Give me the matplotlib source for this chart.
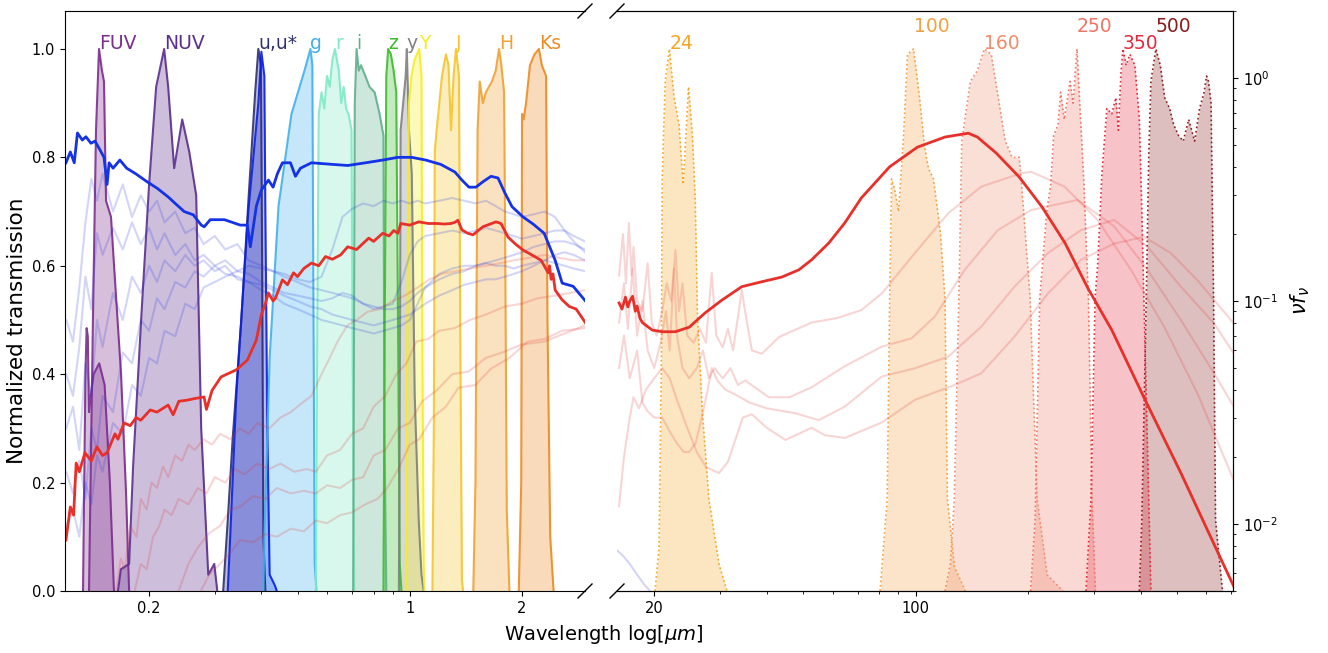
import numpy as np
import matplotlib
matplotlib.use("Agg")
import matplotlib.pyplot as plt
from matplotlib.ticker import FixedLocator, FixedFormatter, LogLocator, NullFormatter

# ---------------- UV / optical / NIR filter curves (left panel) ----------------
FUV_WL = [0.1380, 0.1414, 0.1441, 0.1468, 0.1495, 0.1514, 0.1533, 0.1581, 0.1611, 0.1682, 0.1735, 0.1768]
FUV_T = [0.0, 0.50, 0.85, 1.00, 0.96, 0.94, 0.72, 0.69, 0.60, 0.40, 0.18, 0.0]
FUV2_WL = [0.1330, 0.1340, 0.1350, 0.1360, 0.1370, 0.1380, 0.1395, 0.1420, 0.1470, 0.1520, 0.1570, 0.1610]
FUV2_T = [0.0, 0.20, 0.40, 0.485, 0.47, 0.33, 0.36, 0.40, 0.42, 0.38, 0.20, 0.0]
NUV_WL = [0.1650, 0.1680, 0.1768, 0.1812, 0.1904, 0.2000, 0.2089, 0.2195, 0.2250, 0.2335, 0.2454,
          0.2563, 0.2675, 0.2759, 0.2882, 0.2991, 0.3047]
NUV_T = [0.0, 0.04, 0.05, 0.23, 0.50, 0.75, 0.93, 1.00, 0.93, 0.78, 0.87, 0.81, 0.73, 0.30, 0.03, 0.05, 0.0]
USTAR_WL = [0.316, 0.325, 0.335, 0.3534, 0.370, 0.385, 0.3926, 0.399, 0.402, 0.405, 0.410]
USTAR_T = [0.0, 0.13, 0.28, 0.50, 0.73, 0.92, 1.00, 0.97, 0.60, 0.10, 0.0]
U_WL = [0.325, 0.330, 0.3426, 0.369, 0.3926, 0.400, 0.4075, 0.410, 0.415, 0.421, 0.435, 0.440]
U_T = [0.0, 0.10, 0.36, 0.70, 0.90, 0.995, 0.95, 0.70, 0.30, 0.03, 0.01, 0.0]
G_WL = [0.405, 0.4075, 0.421, 0.4447, 0.4817, 0.522, 0.5416, 0.548, 0.552, 0.556, 0.562]
G_T = [0.0, 0.10, 0.43, 0.71, 0.88, 0.96, 1.00, 0.97, 0.50, 0.05, 0.0]
R_WL = [0.560, 0.565, 0.570, 0.580, 0.590, 0.600, 0.610, 0.620, 0.630, 0.645, 0.655, 0.665, 0.675,
        0.685, 0.698, 0.703, 0.710]
R_T = [0.0, 0.50, 0.88, 0.92, 0.89, 0.95, 0.93, 0.98, 1.00, 0.96, 0.90, 0.93, 0.89, 0.88, 0.85, 0.40, 0.0]
I_WL = [0.705, 0.712, 0.720, 0.730, 0.740, 0.760, 0.780, 0.805, 0.830, 0.850, 0.855, 0.865]
I_T = [0.0, 0.90, 1.00, 0.96, 0.97, 0.95, 0.93, 0.92, 0.88, 0.84, 0.30, 0.0]
Z_WL = [0.850, 0.857, 0.865, 0.875, 0.890, 0.905, 0.920, 0.930, 0.940, 0.950]
Z_T = [0.0, 0.50, 0.95, 1.00, 0.99, 0.96, 0.92, 0.50, 0.05, 0.0]
YS_WL = [0.935, 0.940, 0.945, 0.960, 0.975, 0.982, 0.995, 1.0125, 1.031, 1.057, 1.075, 1.090]
YS_T = [0.0, 0.30, 0.85, 0.90, 0.95, 1.00, 0.85, 0.77, 0.36, 0.13, 0.03, 0.0]
YB_WL = [0.975, 0.985, 0.995, 1.010, 1.030, 1.060, 1.075, 1.080, 1.090, 1.095]
YB_T = [0.0, 0.50, 0.90, 0.95, 0.98, 1.00, 0.95, 0.50, 0.05, 0.0]
J_WL = [1.150, 1.160, 1.167, 1.180, 1.200, 1.220, 1.250, 1.270, 1.290, 1.310, 1.330, 1.340, 1.355,
        1.365, 1.380, 1.390]
J_T = [0.0, 0.30, 0.81, 0.85, 0.90, 0.95, 0.99, 0.97, 0.85, 0.95, 1.00, 0.98, 0.95, 0.50, 0.02, 0.0]
H_WL = [1.480, 1.500, 1.520, 1.540, 1.570, 1.600, 1.630, 1.660, 1.700, 1.735, 1.760, 1.790, 1.800,
        1.820, 1.850]
H_T = [0.0, 0.20, 0.85, 0.94, 0.90, 0.92, 0.93, 0.94, 0.96, 1.00, 0.97, 0.92, 0.70, 0.15, 0.0]
KS_WL = [1.960, 1.990, 2.000, 2.020, 2.050, 2.100, 2.160, 2.220, 2.260, 2.320, 2.340, 2.380, 2.430]
KS_T = [0.0, 0.20, 0.88, 0.87, 0.90, 0.97, 0.99, 1.00, 0.97, 0.95, 0.50, 0.10, 0.0]

OPT_NAMES = ["FUV", "", "NUV", "u,u*", "", "g", "r", "i", "z", "y", "Y", "J", "H", "Ks"]
OPT_COLORS = ["#7b2d8e", "#7b2d8e", "#5a2d8e", "#2e2e6e", "#0a1ee8", "#3fb0ec", "#7eeac4",
              "#5fb08c", "#3dbb2e", "#808080", "#f5ee20", "#f5c52a", "#f0a030", "#ec8a22"]
OPT_WL = [FUV_WL, FUV2_WL, NUV_WL, USTAR_WL, U_WL, G_WL, R_WL, I_WL, Z_WL, YS_WL, YB_WL, J_WL, H_WL, KS_WL]
OPT_T = [FUV_T, FUV2_T, NUV_T, USTAR_T, U_T, G_T, R_T, I_T, Z_T, YS_T, YB_T, J_T, H_T, KS_T]

# ---------------- FIR filter curves (right panel) ----------------
F24_WL = [20.1, 20.6, 20.9, 21.0, 21.4, 21.95, 22.6, 23.3, 23.9, 24.7, 25.3, 25.75, 26.1, 26.9, 28.0, 29.8, 31.3]
F24_T = [0.0, 0.08, 0.42, 0.76, 0.94, 1.0, 0.91, 0.86, 0.75, 0.93, 0.84, 0.72, 0.51, 0.33, 0.17, 0.05, 0.0]
F100_WL = [80.4, 84.0, 85.3, 86.3, 88.0, 90.1, 92.9, 95.2, 98.8, 102.5, 105.7, 108.3, 111.7, 116.6,
           119.9, 121.7, 127.1, 135.9]
F100_T = [0.0, 0.17, 0.54, 0.76, 0.74, 0.70, 0.84, 0.99, 1.0, 0.91, 0.82, 0.78, 0.76, 0.66, 0.54, 0.17, 0.045, 0.0]
F160_WL = [119.9, 124.0, 127.0, 130.6, 133.0, 140.2, 146.4, 152.8, 159.5, 166.5, 173.8, 181.4, 189.4,
           191.7, 194.7, 202.6, 211.5, 224.9, 248.0]
F160_T = [0.0, 0.05, 0.17, 0.54, 0.83, 0.94, 0.96, 1.0, 0.99, 0.91, 0.83, 0.80, 0.80, 0.76, 0.70, 0.54, 0.17, 0.03, 0.0]
F250_WL = [203.1, 208.9, 215.0, 224.5, 230.0, 234.2, 240.6, 244.5, 250.0, 259.1, 264.0, 270.4, 275.0,
           282.3, 285.8, 290.2, 296.5, 302.9]
F250_T = [0.0, 0.13, 0.54, 0.70, 0.75, 0.84, 0.86, 0.92, 0.87, 0.94, 0.90, 1.0, 0.90, 0.75, 0.65, 0.54, 0.17, 0.0]
F350_WL = [285.8, 294.8, 302.3, 307.1, 311.5, 315.3, 325.1, 335.0, 343.6, 349.0, 354.5, 358.9, 366.0,
           374.7, 386.2, 397.0, 403.2, 408.2, 420.7, 426.3]
F350_T = [0.0, 0.17, 0.54, 0.60, 0.69, 0.77, 0.89, 0.88, 0.91, 0.85, 0.955, 1.0, 0.97, 0.99, 0.97, 0.87,
          0.70, 0.54, 0.17, 0.0]
F500_WL = [397.0, 403.2, 414.4, 420.7, 426.3, 439.6, 451.7, 464.2, 478.6, 490.6, 505.8, 520.3, 538.0,
           558.2, 575.4, 591.6, 600.7, 608.1, 617.6, 627.2, 635.0, 662.6]
F500_T = [0.0, 0.13, 0.54, 0.80, 0.94, 1.0, 0.97, 0.91, 0.89, 0.86, 0.84, 0.83, 0.87, 0.83, 0.89, 0.92,
          0.95, 0.94, 0.90, 0.54, 0.13, 0.0]

FIR_NAMES = ["24", "100", "160", "250", "350", "500"]
FIR_COLORS = ["#f5a623", "#f4a040", "#f08c6c", "#ef7564", "#e6283a", "#8a1c1c"]
FIR_WL = [F24_WL, F100_WL, F160_WL, F250_WL, F350_WL, F500_WL]
FIR_T = [F24_T, F100_T, F160_T, F250_T, F350_T, F500_T]

# ---------------- SEDs, left panel (normalised, linear) ----------------
BLUE_WL = [0.1197, 0.1230, 0.1260, 0.1285, 0.1324, 0.1354, 0.1397, 0.1432, 0.1476, 0.1514, 0.1543,
           0.1562, 0.1601, 0.1670, 0.1741, 0.1839, 0.1975, 0.2102, 0.2250, 0.2350, 0.2484, 0.2627,
           0.2760, 0.2812, 0.2917, 0.3185, 0.3512, 0.3668, 0.3737, 0.3878, 0.4001, 0.4178, 0.4300,
           0.4417, 0.4556, 0.4787, 0.4937, 0.5093, 0.5451, 0.6209, 0.6815, 0.7615, 0.8460, 0.9284,
           1.0125, 1.104, 1.211, 1.321, 1.380, 1.441, 1.504, 1.571, 1.651, 1.724, 1.800, 1.880,
           2.013, 2.141, 2.292, 2.454, 2.562, 2.743, 2.991]
BLUE_T = [0.79, 0.81, 0.79, 0.845, 0.832, 0.838, 0.826, 0.83, 0.814, 0.80, 0.75, 0.79, 0.78, 0.795,
          0.78, 0.77, 0.755, 0.743, 0.727, 0.715, 0.70, 0.694, 0.675, 0.672, 0.685, 0.685, 0.675,
          0.675, 0.635, 0.71, 0.74, 0.758, 0.745, 0.77, 0.79, 0.79, 0.765, 0.78, 0.79, 0.787, 0.785,
          0.79, 0.795, 0.80, 0.80, 0.795, 0.787, 0.773, 0.758, 0.745, 0.745, 0.755, 0.765, 0.762,
          0.734, 0.709, 0.69, 0.677, 0.66, 0.61, 0.568, 0.562, 0.531]
RED_WL = [0.1197, 0.1230, 0.1255, 0.1275, 0.1300, 0.1346, 0.1400, 0.1449, 0.1500, 0.1543, 0.1620,
          0.1650, 0.1714, 0.1780, 0.1846, 0.1900, 0.2014, 0.2100, 0.2250, 0.2320, 0.2403, 0.2527,
          0.2650, 0.2808, 0.2850, 0.2950, 0.3119, 0.3426, 0.3668, 0.3878, 0.4001, 0.4100, 0.4178,
          0.4300, 0.4362, 0.4556, 0.4700, 0.4878, 0.5000, 0.5200, 0.5451, 0.5700, 0.5943, 0.6200,
          0.6525, 0.6815, 0.7200, 0.7759, 0.8000, 0.8460, 0.8800, 0.9057, 0.9300, 0.9458, 1.000,
          1.057, 1.120, 1.182, 1.240, 1.289, 1.320, 1.346, 1.380, 1.430, 1.477, 1.571, 1.703, 1.756,
          1.834, 1.920, 2.013, 2.150, 2.250, 2.350, 2.370, 2.393, 2.420, 2.454, 2.562, 2.676, 2.794, 2.991]
RED_T = [0.094, 0.155, 0.14, 0.236, 0.22, 0.255, 0.24, 0.266, 0.25, 0.255, 0.29, 0.28, 0.31, 0.305,
         0.32, 0.315, 0.334, 0.33, 0.343, 0.325, 0.35, 0.352, 0.355, 0.358, 0.335, 0.37, 0.395,
         0.408, 0.426, 0.463, 0.51, 0.53, 0.55, 0.535, 0.54, 0.574, 0.565, 0.587, 0.58, 0.595, 0.605,
         0.60, 0.617, 0.612, 0.62, 0.635, 0.63, 0.651, 0.645, 0.66, 0.655, 0.665, 0.66, 0.678, 0.675,
         0.681, 0.678, 0.678, 0.677, 0.678, 0.68, 0.684, 0.666, 0.66, 0.657, 0.672, 0.681, 0.678,
         0.653, 0.64, 0.629, 0.618, 0.61, 0.587, 0.60, 0.575, 0.585, 0.555, 0.537, 0.525, 0.52, 0.49]

FAINT_BLUE_WL = [0.12, 0.125, 0.13, 0.135, 0.14, 0.145, 0.15, 0.16, 0.17, 0.18, 0.19, 0.2, 0.21, 0.22,
                 0.235, 0.25, 0.265, 0.28, 0.3, 0.32, 0.345, 0.37, 0.4, 0.43, 0.46, 0.5, 0.54, 0.58,
                 0.62, 0.66, 0.7, 0.75, 0.8, 0.85, 0.9, 0.95, 1.0, 1.05, 1.1, 1.2, 1.3, 1.4, 1.5, 1.6,
                 1.7, 1.8, 1.9, 2.0, 2.15, 2.3, 2.45, 2.6, 2.75, 2.95]
FAINT_BLUE_1 = [0.50, 0.46, 0.56, 0.68, 0.76, 0.72, 0.77, 0.70, 0.75, 0.69, 0.73, 0.70, 0.72, 0.68,
                0.70, 0.66, 0.67, 0.64, 0.655, 0.63, 0.64, 0.61, 0.60, 0.59, 0.585, 0.575, 0.57, 0.58,
                0.63, 0.69, 0.705, 0.715, 0.71, 0.72, 0.715, 0.72, 0.715, 0.72, 0.715, 0.72, 0.725,
                0.72, 0.715, 0.72, 0.71, 0.70, 0.695, 0.69, 0.695, 0.70, 0.69, 0.665, 0.645, 0.625]
FAINT_BLUE_2 = [0.40, 0.36, 0.45, 0.58, 0.52, 0.66, 0.62, 0.67, 0.63, 0.68, 0.64, 0.67, 0.63, 0.66,
                0.62, 0.64, 0.61, 0.62, 0.60, 0.61, 0.59, 0.585, 0.57, 0.56, 0.55, 0.545, 0.54, 0.535,
                0.54, 0.55, 0.545, 0.53, 0.52, 0.525, 0.53, 0.57, 0.62, 0.645, 0.655, 0.66, 0.665,
                0.66, 0.665, 0.67, 0.665, 0.66, 0.655, 0.65, 0.655, 0.66, 0.665, 0.665, 0.655, 0.645]
FAINT_BLUE_3 = [0.30, 0.34, 0.26, 0.42, 0.36, 0.50, 0.45, 0.55, 0.50, 0.58, 0.55, 0.60, 0.57, 0.61,
                0.59, 0.62, 0.60, 0.61, 0.59, 0.60, 0.575, 0.57, 0.555, 0.545, 0.53, 0.52, 0.51, 0.50,
                0.495, 0.49, 0.485, 0.48, 0.475, 0.48, 0.485, 0.49, 0.50, 0.53, 0.56, 0.585, 0.595,
                0.60, 0.60, 0.605, 0.60, 0.60, 0.595, 0.60, 0.605, 0.61, 0.605, 0.60, 0.595, 0.59]
FAINT_BLUE_4 = [0.22, 0.18, 0.24, 0.17, 0.30, 0.26, 0.36, 0.33, 0.44, 0.42, 0.50, 0.48, 0.54, 0.52,
                0.57, 0.56, 0.59, 0.58, 0.60, 0.585, 0.58, 0.57, 0.565, 0.555, 0.545, 0.535, 0.525,
                0.52, 0.51, 0.505, 0.50, 0.495, 0.49, 0.495, 0.50, 0.505, 0.51, 0.52, 0.53, 0.545,
                0.555, 0.565, 0.57, 0.575, 0.575, 0.58, 0.585, 0.59, 0.60, 0.61, 0.62, 0.625, 0.62, 0.61]
FAINT_BLUE_5 = [0.12, 0.15, 0.10, 0.20, 0.16, 0.25, 0.22, 0.31, 0.29, 0.38, 0.36, 0.43, 0.42, 0.48,
                0.47, 0.53, 0.52, 0.56, 0.57, 0.58, 0.59, 0.60, 0.595, 0.59, 0.58, 0.57, 0.56, 0.555,
                0.55, 0.545, 0.54, 0.53, 0.525, 0.52, 0.52, 0.525, 0.535, 0.55, 0.56, 0.575, 0.585,
                0.59, 0.60, 0.605, 0.61, 0.615, 0.62, 0.625, 0.635, 0.64, 0.645, 0.645, 0.64, 0.63]
FAINT_BLUE = [FAINT_BLUE_1, FAINT_BLUE_2, FAINT_BLUE_3, FAINT_BLUE_4, FAINT_BLUE_5]

FR1_WL = [0.163, 0.168, 0.172, 0.178, 0.185, 0.19, 0.197, 0.203, 0.21, 0.218, 0.225, 0.235, 0.245,
          0.255, 0.265, 0.28, 0.295, 0.31, 0.33, 0.35, 0.37, 0.39, 0.42, 0.45, 0.48, 0.51, 0.545,
          0.58, 0.61, 0.64, 0.68, 0.72, 0.77, 0.83, 0.9, 0.97, 1.05, 1.13, 1.22, 1.32, 1.45, 1.6,
          1.75, 1.9, 2.1, 2.3, 2.5, 2.75, 2.95]
FR1_T = [0.0, 0.06, 0.04, 0.12, 0.10, 0.17, 0.15, 0.20, 0.19, 0.23, 0.21, 0.25, 0.24, 0.27, 0.26,
         0.28, 0.27, 0.29, 0.28, 0.30, 0.29, 0.31, 0.30, 0.32, 0.33, 0.345, 0.36, 0.40, 0.43, 0.46,
         0.49, 0.50, 0.515, 0.52, 0.535, 0.545, 0.56, 0.575, 0.585, 0.59, 0.595, 0.60, 0.605, 0.61,
         0.615, 0.62, 0.615, 0.61, 0.61]
FR2_WL = [0.183, 0.19, 0.197, 0.205, 0.213, 0.22, 0.23, 0.24, 0.255, 0.27, 0.285, 0.3, 0.32, 0.34,
          0.36, 0.39, 0.42, 0.45, 0.49, 0.53, 0.56, 0.6, 0.65, 0.7, 0.75, 0.8, 0.86, 0.92, 0.98,
          1.04, 1.12, 1.2, 1.32, 1.45, 1.6, 1.8, 2.0, 2.2, 2.45, 2.7, 2.95]
FR2_T = [0.0, 0.05, 0.04, 0.10, 0.12, 0.15, 0.14, 0.17, 0.16, 0.19, 0.18, 0.21, 0.20, 0.225, 0.215,
         0.235, 0.225, 0.235, 0.22, 0.225, 0.22, 0.25, 0.26, 0.29, 0.30, 0.34, 0.36, 0.40, 0.42,
         0.46, 0.465, 0.48, 0.485, 0.50, 0.51, 0.525, 0.53, 0.54, 0.545, 0.55, 0.555]
FR3_WL = [0.24, 0.255, 0.27, 0.29, 0.31, 0.33, 0.35, 0.38, 0.41, 0.44, 0.48, 0.52, 0.56, 0.6, 0.65,
          0.7, 0.75, 0.8, 0.86, 0.93, 1.0, 1.08, 1.18, 1.3, 1.44, 1.6, 1.77, 2.0, 2.29, 2.6, 2.95]
FR3_T = [0.0, 0.05, 0.08, 0.107, 0.12, 0.15, 0.155, 0.175, 0.17, 0.19, 0.18, 0.185, 0.18, 0.195,
         0.19, 0.205, 0.21, 0.25, 0.26, 0.30, 0.31, 0.35, 0.37, 0.40, 0.405, 0.43, 0.44, 0.455,
         0.46, 0.475, 0.49]
FR4_WL = [0.275, 0.29, 0.31, 0.33, 0.35, 0.38, 0.41, 0.44, 0.48, 0.52, 0.56, 0.6, 0.65, 0.7, 0.76,
          0.82, 0.87, 0.94, 1.0, 1.06, 1.15, 1.25, 1.35, 1.5, 1.65, 1.85, 2.07, 2.3, 2.56, 2.95]
FR4_T = [0.0, 0.03, 0.05, 0.07, 0.094, 0.09, 0.105, 0.10, 0.115, 0.11, 0.13, 0.125, 0.14, 0.145,
         0.16, 0.17, 0.19, 0.23, 0.27, 0.28, 0.32, 0.34, 0.375, 0.38, 0.41, 0.43, 0.46, 0.465, 0.48, 0.485]
FAINT_RED_WL = [FR1_WL, FR2_WL, FR3_WL, FR4_WL]
FAINT_RED_T = [FR1_T, FR2_T, FR3_T, FR4_T]

# ---------------- SEDs, right panel (nu f_nu, log) ----------------
SED_WL = [16.1, 16.4, 16.75, 17.0, 17.2, 17.5, 17.8, 18.0, 18.3, 18.59, 19.77, 21.03, 22.77, 24.81,
          27.37, 30.36, 34.31, 38.79, 43.85, 48.75, 52.72, 58.61, 64.67, 71.64, 85.25, 101.2, 119.9,
          138.4, 146.4, 164.4, 189.4, 218.1, 251.2, 289.3, 335.2, 408.2, 512.2, 642.7, 712.0]
SED_F = [0.098, 0.092, 0.104, 0.094, 0.100, 0.105, 0.090, 0.095, 0.084, 0.080, 0.074, 0.0728, 0.0728,
         0.0763, 0.0885, 0.101, 0.116, 0.122, 0.128, 0.138, 0.153, 0.182, 0.224, 0.29, 0.40, 0.49,
         0.544, 0.566, 0.544, 0.461, 0.36, 0.264, 0.182, 0.114, 0.074, 0.037, 0.017, 0.0075, 0.0052]

C1_WL = [16.1, 16.5, 16.8, 17.1, 17.4, 17.6, 18.0, 18.6, 19.2, 19.7, 20.3, 21.0, 21.6, 22.2, 22.8,
         23.3, 23.8, 24.5, 25.5, 26.5, 27.5, 28.5, 29.3, 30.5, 31.5, 32.5, 34.3, 35.0, 36.5, 38.8,
         43.2, 52.7, 62.0, 71.6, 81.2, 99.6, 122.2, 150.0, 191.7, 203.9, 250.3, 307.1, 377.0, 462.6,
         567.9, 710.0]
C1_F = [0.13, 0.20, 0.12, 0.224, 0.13, 0.175, 0.10, 0.09, 0.148, 0.08, 0.07, 0.09, 0.12, 0.10, 0.169,
        0.09, 0.12, 0.07, 0.065, 0.075, 0.065, 0.134, 0.07, 0.062, 0.075, 0.06, 0.112, 0.09, 0.06,
        0.058, 0.069, 0.080, 0.084, 0.091, 0.108, 0.164, 0.247, 0.326, 0.374, 0.380, 0.326, 0.231,
        0.138, 0.0767, 0.0385, 0.0157]
C2_WL = [16.1, 16.6, 17.0, 17.5, 18.0, 18.6, 19.2, 20.0, 20.8, 21.5, 22.0, 22.6, 23.0, 23.8, 24.8,
         26.0, 27.0, 28.0, 29.0, 30.5, 32.0, 33.5, 35.0, 40.5, 46.0, 52.7, 64.7, 81.2, 97.6, 112.6,
         135.4, 166.1, 203.9, 271.4, 340.2, 417.6, 512.7, 629.2, 710.0]
C2_F = [0.08, 0.12, 0.075, 0.14, 0.07, 0.10, 0.06, 0.05, 0.065, 0.09, 0.06, 0.14, 0.07, 0.05, 0.045,
        0.05, 0.06, 0.045, 0.05, 0.045, 0.05, 0.042, 0.044, 0.037, 0.037, 0.041, 0.051, 0.0624,
        0.068, 0.0851, 0.138, 0.208, 0.256, 0.284, 0.216, 0.138, 0.0822, 0.0474, 0.0336]
C3_WL = [16.1, 16.6, 17.2, 18.0, 18.6, 19.2, 20.0, 21.0, 22.0, 23.0, 24.0, 24.8, 25.8, 26.8, 27.8,
         28.5, 29.5, 31.0, 33.0, 36.0, 40.0, 47.6, 55.1, 64.7, 81.2, 99.6, 122.2, 150.0, 184.0,
         226.0, 277.2, 340.2, 417.6, 512.7, 629.2, 710.0]
C3_F = [0.05, 0.07, 0.045, 0.06, 0.035, 0.032, 0.03, 0.03, 0.026, 0.023, 0.021, 0.021, 0.023, 0.03,
        0.04, 0.05, 0.044, 0.04, 0.038, 0.035, 0.033, 0.0314, 0.0292, 0.0336, 0.0458, 0.0499, 0.0562,
        0.0767, 0.116, 0.164, 0.208, 0.231, 0.175, 0.116, 0.0794, 0.0582]
C4_WL = [16.1, 16.6, 17.2, 17.6, 18.2, 19.0, 20.0, 21.0, 22.0, 23.0, 24.5, 26.0, 27.5, 29.8, 31.5,
         33.0, 34.5, 36.5, 40.0, 44.9, 52.7, 57.2, 64.7, 81.2, 99.6, 127.3, 150.0, 184.0, 226.0,
         277.2, 340.2, 408.8, 482.1, 567.9, 710.0]
C4_F = [0.012, 0.02, 0.03, 0.037, 0.033, 0.04, 0.045, 0.05, 0.045, 0.036, 0.027, 0.021, 0.018,
        0.0169, 0.019, 0.024, 0.03, 0.031, 0.027, 0.0238, 0.027, 0.025, 0.0243, 0.0285, 0.036, 0.042,
        0.0474, 0.0692, 0.108, 0.153, 0.181, 0.194, 0.164, 0.124, 0.0794]
FAINT_FIR_WL = [C1_WL, C2_WL, C3_WL, C4_WL]
FAINT_FIR_F = [C1_F, C2_F, C3_F, C4_F]

BLUE_TAIL_WL = [15.9, 16.5, 17.2, 18.0, 18.8, 19.5]
BLUE_TAIL_T = [0.075, 0.065, 0.05, 0.03, 0.012, 0.0]

# ---------------- figure ----------------
W, H = 1328, 653
fig = plt.figure(figsize=(W / 100, H / 100), dpi=100)
ax1 = fig.add_axes([65 / W, 62 / H, 520 / W, 580 / H])
ax2 = fig.add_axes([617 / W, 62 / H, 616 / W, 580 / H])
ax3 = ax2.twinx()

# left panel: filters
for name, wl, t, c in zip(OPT_NAMES, OPT_WL, OPT_T, OPT_COLORS):
    wl = np.asarray(wl); t = np.asarray(t)
    ax1.fill_between(wl, 0, t, color=c, alpha=0.3, lw=0)
    ax1.plot(wl, t, color=c, lw=1.5, alpha=0.9)
    if name:
        k = int(np.argmax(t))
        ax1.text(wl[k], t[k], name, color=c, fontsize=13.5, ha="left", va="baseline")

# left panel: SEDs
for fb in FAINT_BLUE:
    ax1.plot(FAINT_BLUE_WL, fb, color="#2030e0", alpha=0.2, lw=1.5)
for wl, t in zip(FAINT_RED_WL, FAINT_RED_T):
    ax1.plot(wl, t, color="#e03030", alpha=0.2, lw=1.5)
ax1.plot(BLUE_WL, BLUE_T, color="#1432e6", lw=2)
ax1.plot(RED_WL, RED_T, color="#e8302a", lw=2)

ax1.set_xscale("log")
ax1.set_xlim(0.119, 2.95)
ax1.set_ylim(0, 1.07)
ax1.xaxis.set_major_locator(FixedLocator([0.2, 1, 2]))
ax1.xaxis.set_major_formatter(FixedFormatter(["0.2", "1", "2"]))
ax1.xaxis.set_minor_locator(LogLocator(base=10, subs=np.arange(2, 10)))
ax1.xaxis.set_minor_formatter(NullFormatter())
ax1.set_yticks([0, 0.2, 0.4, 0.6, 0.8, 1.0])
ax1.set_ylabel("Normalized transmission", fontsize=15.5)
ax1.yaxis.set_label_coords(-0.073, 0.448)
ax1.spines["right"].set_visible(False)
ax1.tick_params(labelsize=10.5)

# right panel: filters (linear)
raise_lab = [0.0, 0.031, 0.0, 0.031, 0.0, 0.031]
for name, wl, t, c, dy in zip(FIR_NAMES, FIR_WL, FIR_T, FIR_COLORS, raise_lab):
    wl = np.asarray(wl); t = np.asarray(t)
    ax2.fill_between(wl, 0, t, color=c, alpha=0.28, lw=0)
    ax2.plot(wl, t, color=c, lw=1.2, ls=":")
    k = int(np.argmax(t))
    ax2.text(wl[k], t[k] + dy, name, color=c, fontsize=13.5, ha="left", va="baseline")
ax2.plot(BLUE_TAIL_WL, BLUE_TAIL_T, color="#2030e0", alpha=0.2, lw=1.5)
ax2.set_xscale("log")
ax2.set_xlim(15.9, 707)
ax2.set_ylim(0, 1.07)
ax2.xaxis.set_major_locator(FixedLocator([20, 100]))
ax2.xaxis.set_major_formatter(FixedFormatter(["20", "100"]))
ax2.xaxis.set_minor_locator(LogLocator(base=10, subs=np.arange(2, 10)))
ax2.xaxis.set_minor_formatter(NullFormatter())
ax2.tick_params(left=False, labelleft=False, labelsize=10.5)
ax2.spines["left"].set_visible(False)

# right panel: SEDs (log)
for wl, f in zip(FAINT_FIR_WL, FAINT_FIR_F):
    ax3.plot(wl, f, color="#e03030", alpha=0.2, lw=1.5)
ax3.plot(SED_WL, SED_F, color="#e8302a", lw=2)
ax3.set_yscale("log")
ax3.set_ylim(0.005, 2.0)
ax3.set_xlim(15.9, 707)
ax3.spines["left"].set_visible(False)
ax3.tick_params(labelsize=10.5)
ax3.set_ylabel(r"$\nu f_{\nu}$", fontsize=15, labelpad=8)

# broken-axis marks
for ax, wpx, side in ((ax1, 520, 1), (ax2, 616, 0)):
    dx, dy = 7 / wpx, 7 / 580
    kw = dict(transform=ax.transAxes, color="k", clip_on=False, lw=1)
    ax.plot((side - dx, side + dx), (-dy, dy), **kw)
    ax.plot((side - dx, side + dx), (1 - dy, 1 + dy), **kw)

fig.text(604 / W, 1 - 635 / H, r"Wavelength log[$\mu m$]", ha="center", va="center", fontsize=14)

fig.savefig("out.png", dpi=100)
